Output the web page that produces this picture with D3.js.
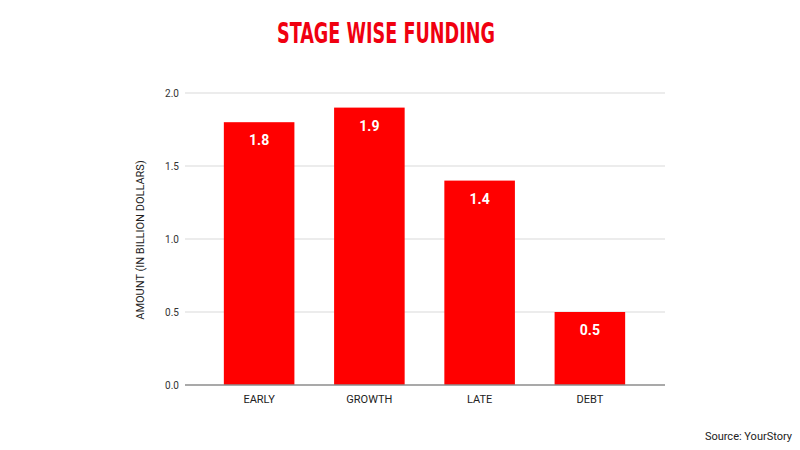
<!DOCTYPE html>
<html>
<head>
    <script src="https://cdnjs.cloudflare.com/ajax/libs/d3/7.8.5/d3.min.js"></script>
    <style>
        body { margin: 0; background: #fff; }
        text { font-family: Roboto, Arial, sans-serif; }
    </style>
</head>
<body>
    <div id="chart"></div>
    <script>
        const width = 800, height = 450;

        const stages = ["EARLY", "GROWTH", "LATE", "DEBT"];
        const amounts = [1.8, 1.9, 1.4, 0.5];
        const yTicks = [0, 0.5, 1.0, 1.5, 2.0];

        const svg = d3.select("#chart").append("svg")
            .attr("width", width).attr("height", height);

        const gridLeft = 185, gridRight = 665;
        const x = d3.scaleBand().domain(stages).range([204, 645]).paddingInner(0.36).paddingOuter(0.18);
        const y = d3.scaleLinear().domain([0, 2]).range([385, 93]);

        // title - condensed look
        svg.append("text")
            .attr("x", 277).attr("y", 43)
            .attr("textLength", 218)
            .attr("lengthAdjust", "spacingAndGlyphs")
            .attr("fill", "#f00010")
            .style("font-family", "'DejaVu Sans Condensed', 'Liberation Sans Narrow', sans-serif")
            .style("font-weight", "bold")
            .style("font-size", "29px")
            .text("STAGE WISE FUNDING");

        // gridlines
        svg.append("g").selectAll("line")
            .data(yTicks.filter(d => d > 0))
            .enter().append("line")
            .attr("x1", gridLeft).attr("x2", gridRight)
            .attr("y1", d => y(d)).attr("y2", d => y(d))
            .attr("stroke", "#d9d9d9").attr("stroke-width", 1);

        // y tick labels
        svg.append("g").selectAll("text")
            .data(yTicks)
            .enter().append("text")
            .attr("x", 179).attr("y", d => y(d) + 4)
            .attr("text-anchor", "end")
            .attr("fill", "#333")
            .style("font-size", "10px")
            .text(d => d3.format(".1f")(d));

        // bars
        svg.append("g").selectAll("rect")
            .data(amounts)
            .enter().append("rect")
            .attr("x", (d, i) => x(stages[i]))
            .attr("y", d => y(d))
            .attr("width", x.bandwidth())
            .attr("height", d => y(0) - y(d))
            .attr("fill", "#ff0000");

        // value labels
        svg.append("g").selectAll("text")
            .data(amounts)
            .enter().append("text")
            .attr("x", (d, i) => x(stages[i]) + x.bandwidth() / 2)
            .attr("y", d => y(d) + 23)
            .attr("text-anchor", "middle")
            .attr("fill", "#fff")
            .style("font-size", "14px")
            .style("font-weight", "bold")
            .text(d => d3.format(".1f")(d));

        // baseline
        svg.append("line")
            .attr("x1", gridLeft).attr("x2", gridRight)
            .attr("y1", y(0)).attr("y2", y(0))
            .attr("stroke", "#8c8c8c").attr("stroke-width", 1.5);

        // x labels
        svg.append("g").selectAll("text")
            .data(stages)
            .enter().append("text")
            .attr("x", d => x(d) + x.bandwidth() / 2)
            .attr("y", 403)
            .attr("text-anchor", "middle")
            .attr("fill", "#222")
            .style("font-size", "11px")
            .text(d => d);

        // y axis title
        svg.append("text")
            .attr("transform", "translate(144,240) rotate(-90)")
            .attr("text-anchor", "middle")
            .attr("fill", "#222")
            .style("font-size", "11px")
            .text("AMOUNT (IN BILLION DOLLARS)");

        // source
        svg.append("text")
            .attr("x", 792).attr("y", 440)
            .attr("text-anchor", "end")
            .attr("fill", "#222")
            .style("font-size", "11px")
            .text("Source: YourStory");
    </script>
</body>
</html>
